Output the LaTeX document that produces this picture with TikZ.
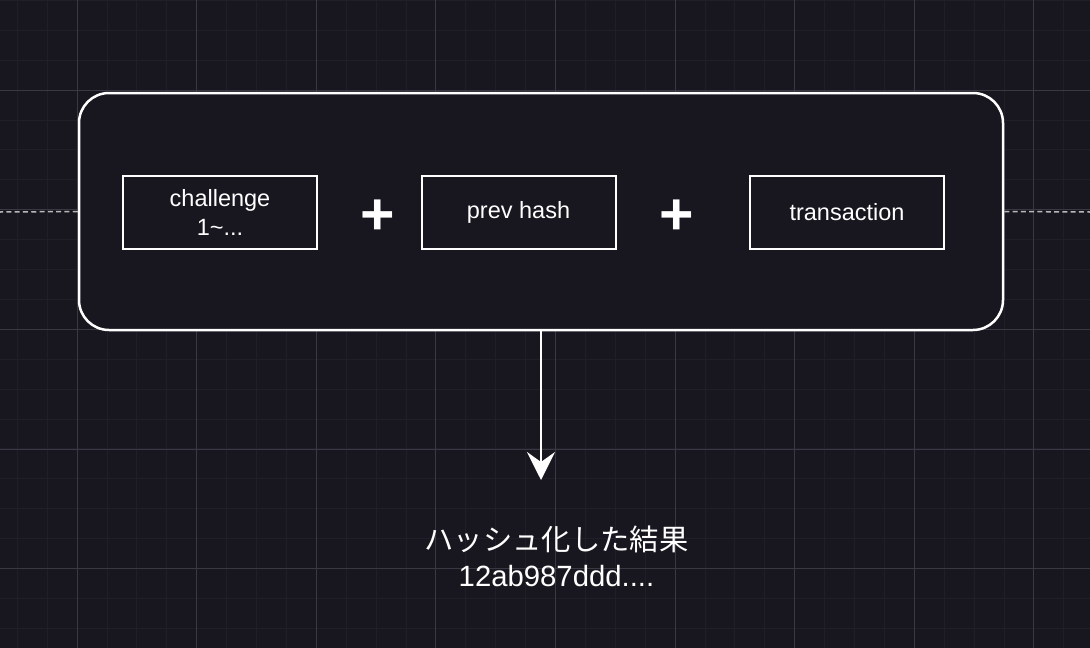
\documentclass[tikz,border=0pt]{standalone}
\usepackage{fontspec}
\setmainfont{Liberation Sans}
\newfontfamily\jpfont{Noto Sans CJK JP}
\usetikzlibrary{arrows.meta}
\usetikzlibrary{positioning}
\definecolor{canvas}{HTML}{18171F}
\definecolor{minorline}{HTML}{201E28}
\definecolor{majorline}{HTML}{3A3842}
\definecolor{linkgray}{HTML}{B8B8BC}

\begin{document}
\begin{tikzpicture}[x=1pt,y=-1pt,
  minor/.style={draw=minorline, line width=1pt},
  major/.style={draw=majorline, line width=1pt},
  block/.style={draw=white, fill=canvas, line width=2.5pt, rounded corners=30pt,
    minimum width=924pt, minimum height=237pt},
  part/.style={draw=white, line width=2pt, minimum width=194pt, minimum height=73pt,
    align=center, text=white, font=\fontsize{23.5}{29}\selectfont},
  plus/.style={text=white, inner sep=0pt, font=\fontsize{59}{59}\selectfont\bfseries},
  result/.style={text=white, align=center, inner sep=0pt, font=\fontsize{29.3}{36}\selectfont},
  link/.style={draw=linkgray, line width=1.5pt, dash pattern=on 5pt off 3.3pt},
  flow/.style={draw=white, line width=2pt, -{Stealth[length=28pt,width=28pt,inset=10pt]}}]
\useasboundingbox (0,0) rectangle (1090,648);
\fill[canvas] (0,0) rectangle (1090,648);

% grid
\foreach \i in {0,...,36} \draw[minor] ({17.3+29.9*\i},0) -- ({17.3+29.9*\i},648);
\foreach \j in {0,...,21} \draw[minor] (0,{0.4+29.9*\j}) -- (1090,{0.4+29.9*\j});
\foreach \i in {0,...,8} \draw[major] ({77.1+119.6*\i},0) -- ({77.1+119.6*\i},648);
\foreach \j in {0,...,4} \draw[major] (0,{90+119.7*\j}) -- (1090,{90+119.7*\j});

% hash input
\node[block] (input) at (541,211.5) {};
\node[part] (challenge) at (220,212.5) {challenge\\1\textasciitilde...};
\node[plus] (plusA) at (378,217.5) {+};
\node[part] (prevhash) at (518.5,212.5) {prev hash};
\node[plus] (plusB) at (676.5,217.5) {+};
\node[part] (transaction) at (847,212.5) {transaction};

% links outside
\coordinate (leftend) at (0,212);
\coordinate (rightend) at (1090,212);
\draw[link] (input.west) -- (leftend);
\draw[link] (input.east) -- (rightend);

% hash output
\coordinate (tip) at (541,480);
\draw[flow] (input.south) -- (tip);
\node[result] (output) at (556.5,556) {{\jpfont ハッシュ化した結果}\\12ab987ddd....};
\end{tikzpicture}
\end{document}
